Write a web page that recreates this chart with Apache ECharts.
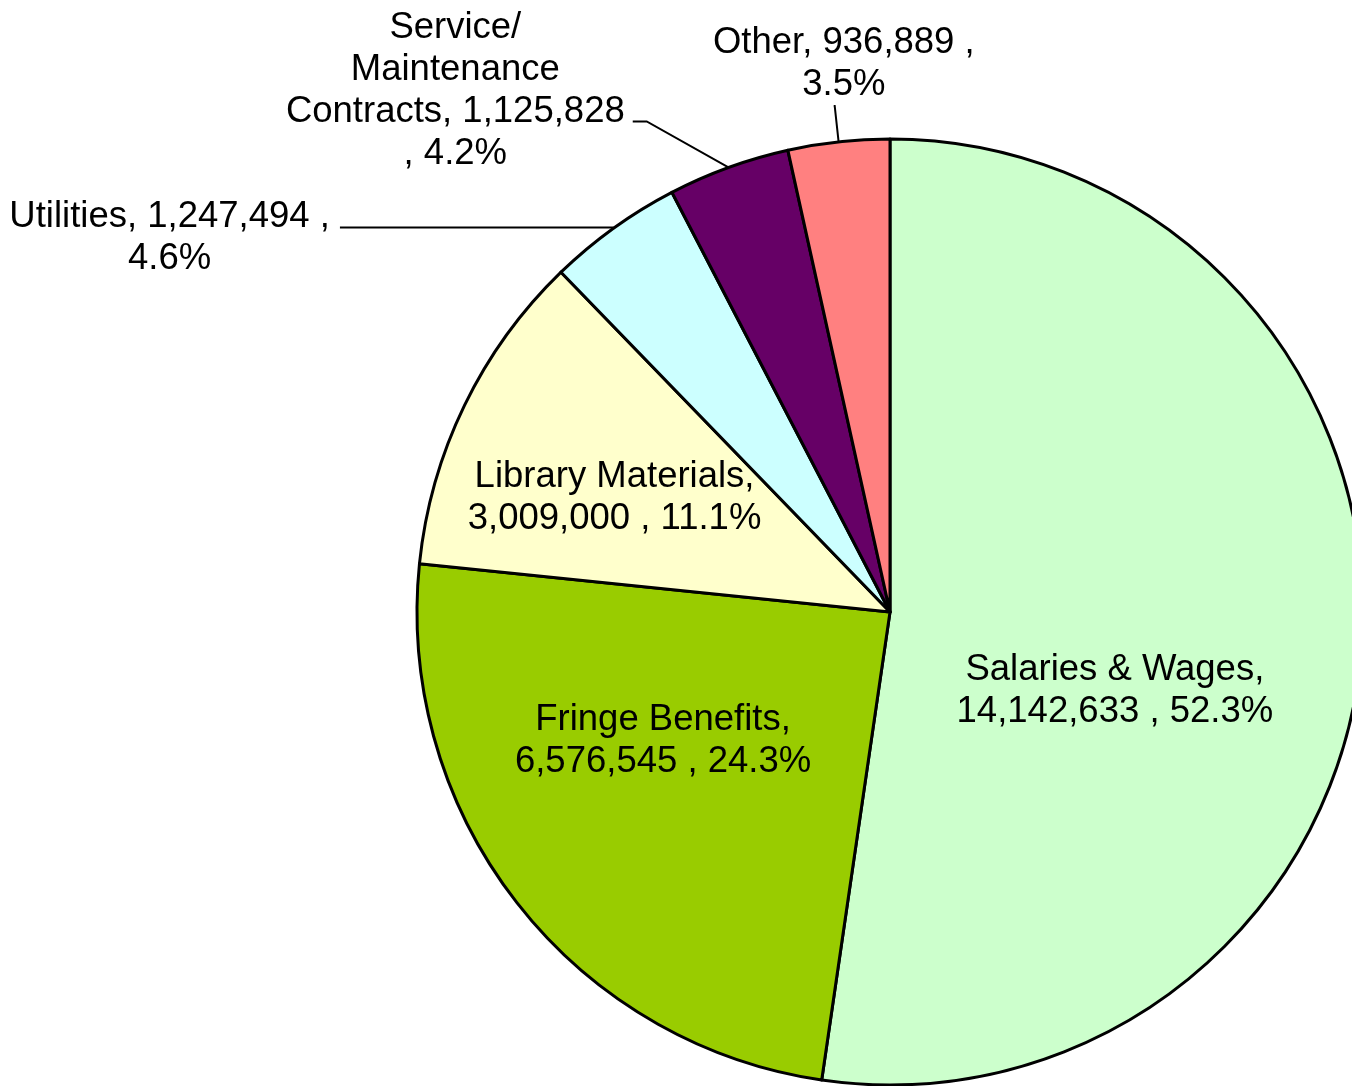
<!DOCTYPE html>
<html>
<head>
<meta charset="utf-8">
<title>Expenditures</title>
<script src="https://cdn.jsdelivr.net/npm/echarts@6/dist/echarts.min.js"></script>
<style>
html, body { margin: 0; padding: 0; background: #fff; }
#pie_chart { width: 1352px; height: 1086px; }
</style>
</head>
<body>
<div id="pie_chart"></div>
<script>
var names = ['Salaries & Wages', 'Fringe Benefits', 'Library Materials', 'Utilities', 'Service/ Maintenance Contracts', 'Other'];
var values = [14142633, 6576545, 3009000, 1247494, 1125828, 936889];
var colors = ['#CCFFCC', '#99CC00', '#FFFFCC', '#CCFFFF', '#660066', '#FF8080'];

// where each label sits: inside the slice or outside with a leader line
var labelPos = ['inside', 'inside', 'inside', 'outside', 'outside', 'outside'];
var lineLen = [0, 0, 0, 1, 49, 36];
var lineLen2 = [0, 0, 0, 273, 79, 1];
// elbow of the leader line pulled this far from its end (0 = keep)
var elbowAt = [0, 0, 0, 0, 14, 0];
// nudge of each label block from where echarts puts it
var labelShift = [[-14, 62], [-38, -18], [-60, -9], [-5, 11], [-3, -30], [146, -42]];

function commas(n) {
    return String(n).replace(/\B(?=(\d{3})+(?!\d))/g, ',');
}

function labelText(i, pct) {
    var v = commas(values[i]);
    var p = pct.toFixed(1) + '%';
    if (i < 3) return names[i] + ',\n' + v + ' , ' + p;
    if (i == 4) return 'Service/\nMaintenance\nContracts, ' + v + '\n, ' + p;
    return names[i] + ', ' + v + ' ,\n' + p;
}

var pieData = [];
for (var i = 0; i < values.length; i++) {
    pieData.push({
        name: names[i],
        value: values[i],
        itemStyle: { color: colors[i] },
        label: { position: labelPos[i] },
        labelLine: {
            show: labelPos[i] == 'outside',
            length: lineLen[i],
            length2: lineLen2[i]
        }
    });
}

var pieChart = echarts.init(document.getElementById('pie_chart'));
pieChart.setOption({
    animation: false,
    textStyle: {
        fontFamily: 'Liberation Sans, Arial, sans-serif'
    },
    series: [{
        type: 'pie',
        center: [890, 612],
        radius: 473,
        startAngle: 90,
        clockwise: true,
        avoidLabelOverlap: false,
        emphasis: { disabled: true },
        itemStyle: {
            borderColor: '#000',
            borderWidth: 3
        },
        label: {
            color: '#000',
            fontSize: 36.5,
            lineHeight: 42,
            fontFamily: 'Liberation Sans, Arial, sans-serif',
            distanceToLabelLine: 5,
            formatter: function(a) {
                return labelText(a.dataIndex, a.percent);
            }
        },
        labelLine: {
            lineStyle: { color: '#000', width: 2 }
        },
        labelLayout: function(p) {
            var i = p.dataIndex;
            var s = labelShift[i];
            var r = p.labelRect;
            var out = {
                x: r.x + r.width / 2 + s[0],
                y: r.y + r.height / 2 + s[1],
                align: 'center',
                verticalAlign: 'middle'
            };
            var pts = p.labelLinePoints;
            if (pts) {
                if (elbowAt[i]) {
                    pts = [pts[0], [pts[2][0] + elbowAt[i], pts[2][1]], pts[2]];
                }
                out.labelLinePoints = pts;
            }
            return out;
        },
        data: pieData
    }]
});
</script>
</body>
</html>
